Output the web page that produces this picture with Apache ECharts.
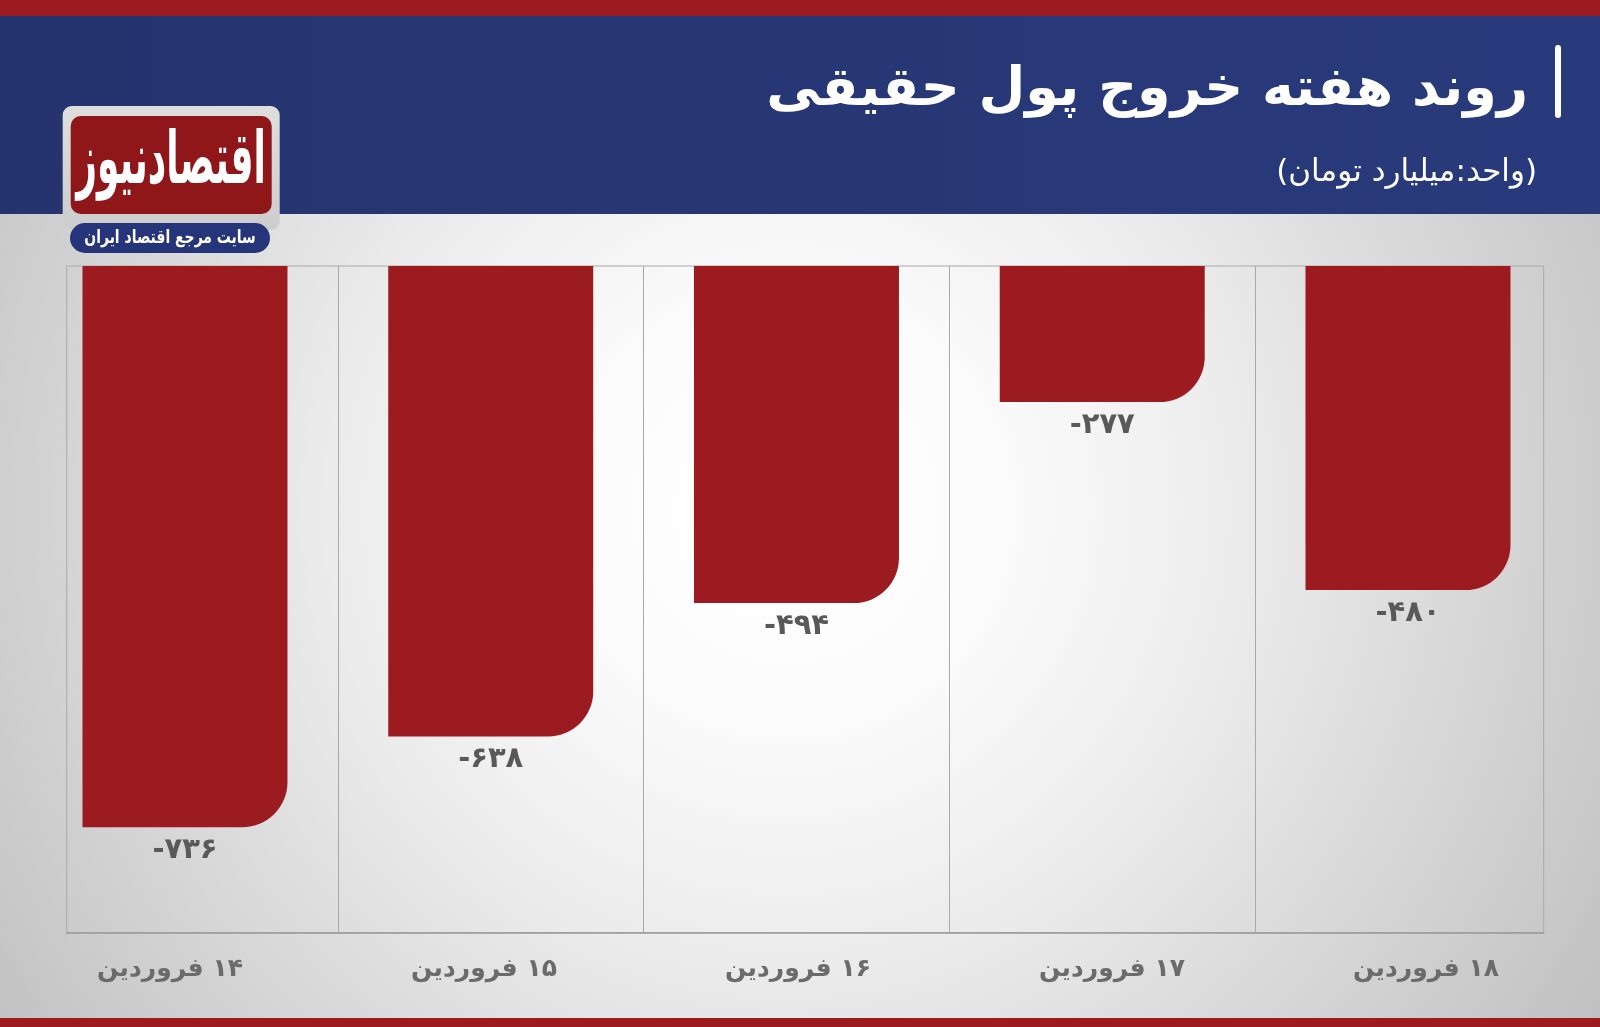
<!DOCTYPE html>
<html><head><meta charset="utf-8">
<script src="https://cdn.jsdelivr.net/npm/echarts@6/dist/echarts.min.js"></script>
<style>html,body{margin:0;padding:0;background:#fff}#c{width:1600px;height:1027px}</style>
</head><body><div id="c"></div>
<script>
// ---- data ----
const categories = ['۱۴ فروردین', '۱۵ فروردین', '۱۶ فروردین', '۱۷ فروردین', '۱۸ فروردین'];
const values = [-736, -638, -494, -277, -480];
const titleText = 'روند هفته خروج پول حقیقی';
const unitText = '(واحد:میلیارد تومان)';
const logoText = 'اقتصادنیوز';
const logoTagline = 'سایت مرجع اقتصاد ایران';

const FA = '"DejaVu Sans", "Noto Sans", sans-serif';
function toFa(n) { return String(n).replace(/\d/g, d => '۰۱۲۳۴۵۶۷۸۹'[d]); }
function rtl(s) { return '\u202B' + s + '\u202C'; }

const RED = '#9c1b21';
const chart = echarts.init(document.getElementById('c'), null, { renderer: 'canvas' });

const plotTop = 266, plotH = 666.7;

chart.setOption({
  animation: false,
  backgroundColor: '#ffffff',
  title: [
    { text: titleText, right: 67, top: 46,
      textStyle: { color: '#ffffff', fontFamily: FA, fontWeight: 'bold', fontSize: 54, lineHeight: 80 } },
    { text: unitText, right: 58, top: 148,
      textStyle: { color: '#ffffff', fontFamily: FA, fontWeight: 'normal', fontSize: 31, lineHeight: 40 } }
  ],
  graphic: [
    { type: 'rect', z: -100, silent: true, shape: { x: 0, y: 0, width: 1600, height: 1027 },
      style: { fill: { type: 'radial', x: 786, y: 510, r: 1000, global: true,
        colorStops: [ { offset: 0, color: '#ffffff' }, { offset: 0.2, color: '#fcfcfc' },
                      { offset: 0.45, color: '#ececec' }, { offset: 0.75, color: '#d2d2d2' },
                      { offset: 1, color: '#bdbdbd' } ] } } },
    { type: 'rect', z: -90, silent: true, shape: { x: 0, y: 0, width: 1600, height: 16 }, style: { fill: RED } },
    { type: 'rect', z: -90, silent: true, shape: { x: 0, y: 16, width: 1600, height: 198 },
      style: { fill: { type: 'linear', x: 0, y: 0, x2: 1, y2: 0,
        colorStops: [ { offset: 0, color: '#25346f' }, { offset: 1, color: '#293a7c' } ] } } },
    { type: 'rect', z: -90, silent: true, shape: { x: 0, y: 1018, width: 1600, height: 9 }, style: { fill: RED } },
    // logo
    { type: 'rect', z: 10, silent: true, shape: { x: 62.7, y: 106, width: 217, height: 124, r: 9 },
      style: { fill: { type: 'linear', x: 0, y: 0, x2: 0, y2: 1,
        colorStops: [ { offset: 0, color: '#dedede' }, { offset: 1, color: '#cdcdcd' } ] } } },
    { type: 'rect', z: 11, silent: true, shape: { x: 70.7, y: 116, width: 201, height: 98, r: 10 },
      style: { fill: '#8f171a' } },
    { type: 'text', z: 12, silent: true, x: 171, y: 164, scaleX: 0.6, scaleY: 1.2,
      style: { text: logoText, x: 0, y: 0, fill: '#ffffff', font: 'bold 60px ' + FA,
               align: 'center', verticalAlign: 'middle', textAlign: 'center', textVerticalAlign: 'middle' } },
    { type: 'rect', z: 11, silent: true, shape: { x: 70, y: 223, width: 200, height: 30, r: 15 },
      style: { fill: '#26357a' } },
    { type: 'text', z: 12, silent: true, x: 170, y: 238, scaleX: 0.82, scaleY: 1.1,
      style: { text: logoTagline, x: 0, y: 0, fill: '#ffffff', font: 'bold 17px ' + FA,
               align: 'center', verticalAlign: 'middle', textAlign: 'center', textVerticalAlign: 'middle' } },
    // title bar mark
    { type: 'rect', z: 12, silent: true, shape: { x: 1555, y: 45, width: 6, height: 73, r: 3 },
      style: { fill: '#ffffff' } }
  ],
  grid: [
    { left: 32.1, top: plotTop, width: 1528.75, height: plotH, show: false, containLabel: false, outerBoundsMode: 'none' },
    { left: 66.7, top: plotTop, width: 1477, height: plotH, show: true, borderColor: '#a9a9a9', borderWidth: 1,
      backgroundColor: 'transparent', containLabel: false, outerBoundsMode: 'none' },
    { left: 13, top: plotTop, width: 1570, height: plotH, show: false, containLabel: false, outerBoundsMode: 'none' }
  ],
  xAxis: [
    { type: 'category', gridIndex: 0, data: categories, boundaryGap: true,
      axisLine: { show: false }, axisTick: { show: false }, axisLabel: { show: false },
      splitLine: { show: true, showMinLine: false, showMaxLine: false, lineStyle: { color: '#a9a9a9', width: 1 } } },
    { type: 'value', gridIndex: 1, show: true, position: 'bottom',
      axisLine: { show: true, onZero: false, lineStyle: { color: '#9a9a9a', width: 1.5 } },
      axisTick: { show: false }, axisLabel: { show: false }, splitLine: { show: false } },
    { type: 'category', gridIndex: 2, data: categories, boundaryGap: true,
      axisLine: { show: false }, axisTick: { show: false }, splitLine: { show: false },
      axisLabel: { show: true, interval: 0, margin: 19, fontFamily: FA, fontWeight: 'bold', fontSize: 25,
                   lineHeight: 36, color: '#6b6b6b', formatter: v => rtl(v) } }
  ],
  yAxis: [
    { type: 'value', gridIndex: 0, min: -850, max: -130, show: false },
    { type: 'value', gridIndex: 1, show: false },
    { type: 'value', gridIndex: 2, show: false }
  ],
  series: [
    { type: 'bar', xAxisIndex: 0, yAxisIndex: 0, data: values, barWidth: 205, clip: true,
      itemStyle: { color: RED, borderRadius: [0, 0, 45, 0] },
      label: { show: true, position: 'bottom', distance: 9, fontFamily: FA, fontWeight: 'bold', fontSize: 29,
               color: '#595959', formatter: p => toFa(p.value) } }
  ]
});
</script></body></html>
